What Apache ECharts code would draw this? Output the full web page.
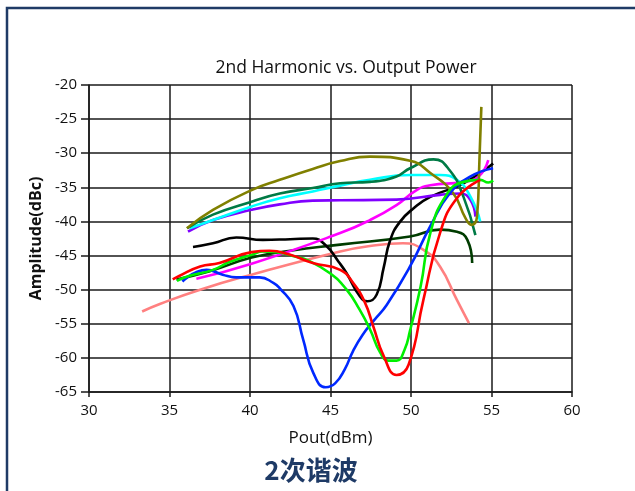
<!DOCTYPE html>
<html>
<head>
<meta charset="utf-8">
<script src="https://cdn.jsdelivr.net/npm/echarts@6/dist/echarts.min.js"></script>
<style>
  html, body { margin: 0; padding: 0; background: #fff; }
  #chart { width: 635px; height: 491px; }
</style>
</head>
<body>
<div id="chart"></div>
<script>
// Axis ticks
const xTicks = [30, 35, 40, 45, 50, 55, 60];
const yTicks = [-65, -60, -55, -50, -45, -40, -35, -30, -25, -20];

// Measured curves: [Pout (dBm), 2nd harmonic (dBc)]
const salmonCurve = [[33.3,-53.2],[34.4,-52.1],[36.9,-50.0],[40.1,-47.8],[45.6,-44.4],[47.45,-43.6],[49.5,-43.2],[50.8,-44.2],[51.8,-46.6],[52.85,-51.5],[53.6,-54.9]];
const darkGreenCurve = [[35.43,-48.5],[37.5,-47.3],[40.1,-45.3],[42.5,-44.3],[45.6,-43.4],[49.94,-42.2],[51.8,-41.2],[52.85,-41.5],[53.5,-42.7],[53.8,-46.1]];
const blackCurve = [[36.46,-43.75],[37.7,-43.2],[39.15,-42.35],[40.8,-42.7],[42.5,-42.6],[43.9,-42.5],[44.7,-43.5],[45.5,-45.9],[46.0,-47.6],[46.83,-51.0],[47.3,-51.7],[47.87,-50.7],[48.3,-46.8],[48.7,-42.8],[49.3,-40.1],[50.2,-38.0],[51.2,-36.4],[53.26,-34.4],[55.1,-31.5]];
const magentaCurve = [[36.67,-48.4],[40.1,-46.2],[45.6,-41.7],[47.45,-39.8],[49.1,-37.6],[50.35,-35.4],[51.2,-34.7],[53.26,-34.2],[54.2,-33.4],[54.8,-31.0]];
const violetCurve = [[36.15,-41.5],[37.7,-39.8],[40.1,-38.3],[41.85,-37.5],[43.9,-36.95],[45.6,-36.9],[49.1,-36.8],[51.8,-36.1],[53.05,-35.9],[53.7,-36.9],[54.0,-39.3]];
const cyanCurve = [[36.25,-41.0],[37.7,-39.8],[40.1,-37.8],[41.85,-36.6],[43.9,-35.6],[45.6,-34.75],[47.45,-33.9],[49.94,-33.2],[51.8,-33.2],[52.85,-33.9],[53.7,-36.4],[54.3,-40.0]];
const tealCurve = [[36.1,-41.0],[37.7,-39.0],[40.1,-37.1],[41.85,-35.9],[43.9,-35.1],[45.6,-34.4],[47.45,-34.2],[49.1,-33.4],[49.94,-32.2],[51.4,-30.9],[52.4,-32.5],[53.26,-36.4],[54.0,-42.0]];
const oliveCurve = [[36.08,-41.0],[37.7,-38.3],[40.1,-35.4],[41.85,-33.9],[43.9,-32.3],[45.6,-31.15],[47.45,-30.5],[49.94,-31.1],[51.2,-32.9],[52.6,-35.8],[53.4,-39.6],[53.75,-40.5],[54.1,-39.3],[54.25,-31.0],[54.37,-23.2]];
const blueCurve = [[35.8,-48.8],[36.05,-48.3],[36.6,-47.5],[37.3,-47.1],[38.3,-47.8],[39.15,-48.2],[40.6,-48.2],[41.45,-49.0],[41.85,-49.8],[42.7,-52.4],[43.3,-57.3],[43.93,-62.2],[44.7,-64.3],[45.3,-63.7],[45.9,-61.6],[46.4,-59.0],[47.0,-56.6],[47.7,-54.5],[48.5,-52.2],[49.94,-46.6],[51.2,-40.7],[52.4,-35.9],[53.7,-33.4],[55.1,-32.2]];
const greenCurve = [[35.46,-48.7],[36.2,-48.0],[37.7,-47.1],[38.75,-45.9],[40.1,-44.9],[40.8,-44.4],[41.65,-44.5],[42.9,-45.2],[43.5,-45.6],[44.97,-47.6],[46.0,-50.0],[46.8,-52.9],[47.45,-55.8],[48.08,-59.2],[48.6,-60.4],[49.1,-60.4],[49.6,-58.8],[49.94,-56.0],[50.6,-49.5],[51.2,-41.7],[52.2,-36.1],[53.26,-34.2],[54.3,-33.9],[54.8,-34.3],[55.1,-34.0]];
const redCurve = [[35.2,-48.5],[35.6,-48.0],[36.9,-46.6],[38.1,-46.1],[40.1,-44.5],[41.2,-44.3],[42.5,-44.9],[43.9,-46.1],[45.6,-47.1],[46.4,-49.0],[47.14,-51.9],[47.66,-55.4],[48.3,-59.7],[49.1,-62.5],[49.85,-61.0],[50.77,-51.5],[51.8,-41.7],[52.85,-36.6],[54.3,-33.9]];

const curves = [
  { data: salmonCurve, color: '#ff8080' },
  { data: darkGreenCurve, color: '#003c00' },
  { data: blackCurve, color: '#000000' },
  { data: magentaCurve, color: '#ff00ff' },
  { data: violetCurve, color: '#8000ff' },
  { data: cyanCurve, color: '#00ffff' },
  { data: tealCurve, color: '#007a45' },
  { data: oliveCurve, color: '#808000' },
  { data: blueCurve, color: '#0028ff' },
  { data: greenCurve, color: '#00f000' },
  { data: redCurve, color: '#ff0000' }
];

const fontFamily = '"Open Sans", "Noto Sans", sans-serif';
const gridLine = { color: '#1a1a1a', width: 1.5 };

const chart = echarts.init(document.getElementById('chart'), null, { renderer: 'canvas' });
chart.setOption({
  animation: false,
  backgroundColor: '#ffffff',
  title: {
    text: '2nd Harmonic vs. Output Power',
    left: 341, top: 54, textAlign: 'center',
    textStyle: { fontFamily, fontSize: 17.5, fontWeight: 'normal', color: '#111' }
  },
  grid: { left: 89, right: 63, top: 85, bottom: 99, containLabel: false },
  xAxis: {
    type: 'value', min: xTicks[0], max: xTicks[xTicks.length - 1], interval: 5,
    name: 'Pout(dBm)', nameLocation: 'middle', nameGap: 38,
    nameTextStyle: { fontFamily, fontSize: 17, color: '#111' },
    axisLine: { show: true, lineStyle: gridLine },
    axisTick: { show: true, length: 5, lineStyle: gridLine },
    axisLabel: { fontFamily, fontSize: 15, color: '#111', margin: 11 },
    splitLine: { show: true, lineStyle: gridLine }
  },
  yAxis: {
    type: 'value', min: yTicks[0], max: yTicks[yTicks.length - 1], interval: 5,
    name: 'Amplitude(dBc)', nameLocation: 'middle', nameGap: 45,
    nameTextStyle: { fontFamily, fontSize: 16, fontWeight: 'bold', color: '#111' },
    axisLine: { show: true, lineStyle: gridLine },
    axisTick: { show: true, length: 8, lineStyle: gridLine },
    axisLabel: { fontFamily, fontSize: 15, color: '#111', margin: 12 },
    splitLine: { show: true, lineStyle: gridLine }
  },
  graphic: [
    {
      type: 'rect', silent: true, z: 100,
      shape: { x: 7, y: 8, width: 700, height: 600 },
      style: { fill: null, stroke: '#1f3b66', lineWidth: 2.5 }
    },
    {
      type: 'text', z: 100, x: 311, y: 457,
      style: { text: '2次谐波', align: 'center', fontFamily: '"Noto Sans CJK SC", sans-serif', fontSize: 26, fontWeight: 'bold', fill: '#1e3a66' }
    }
  ],
  series: curves.map(c => ({
    type: 'line', data: c.data, smooth: 0.5, showSymbol: false, symbol: 'none',
    lineStyle: { color: c.color, width: 2.6 }, clip: false
  }))
});
</script>
</body>
</html>
